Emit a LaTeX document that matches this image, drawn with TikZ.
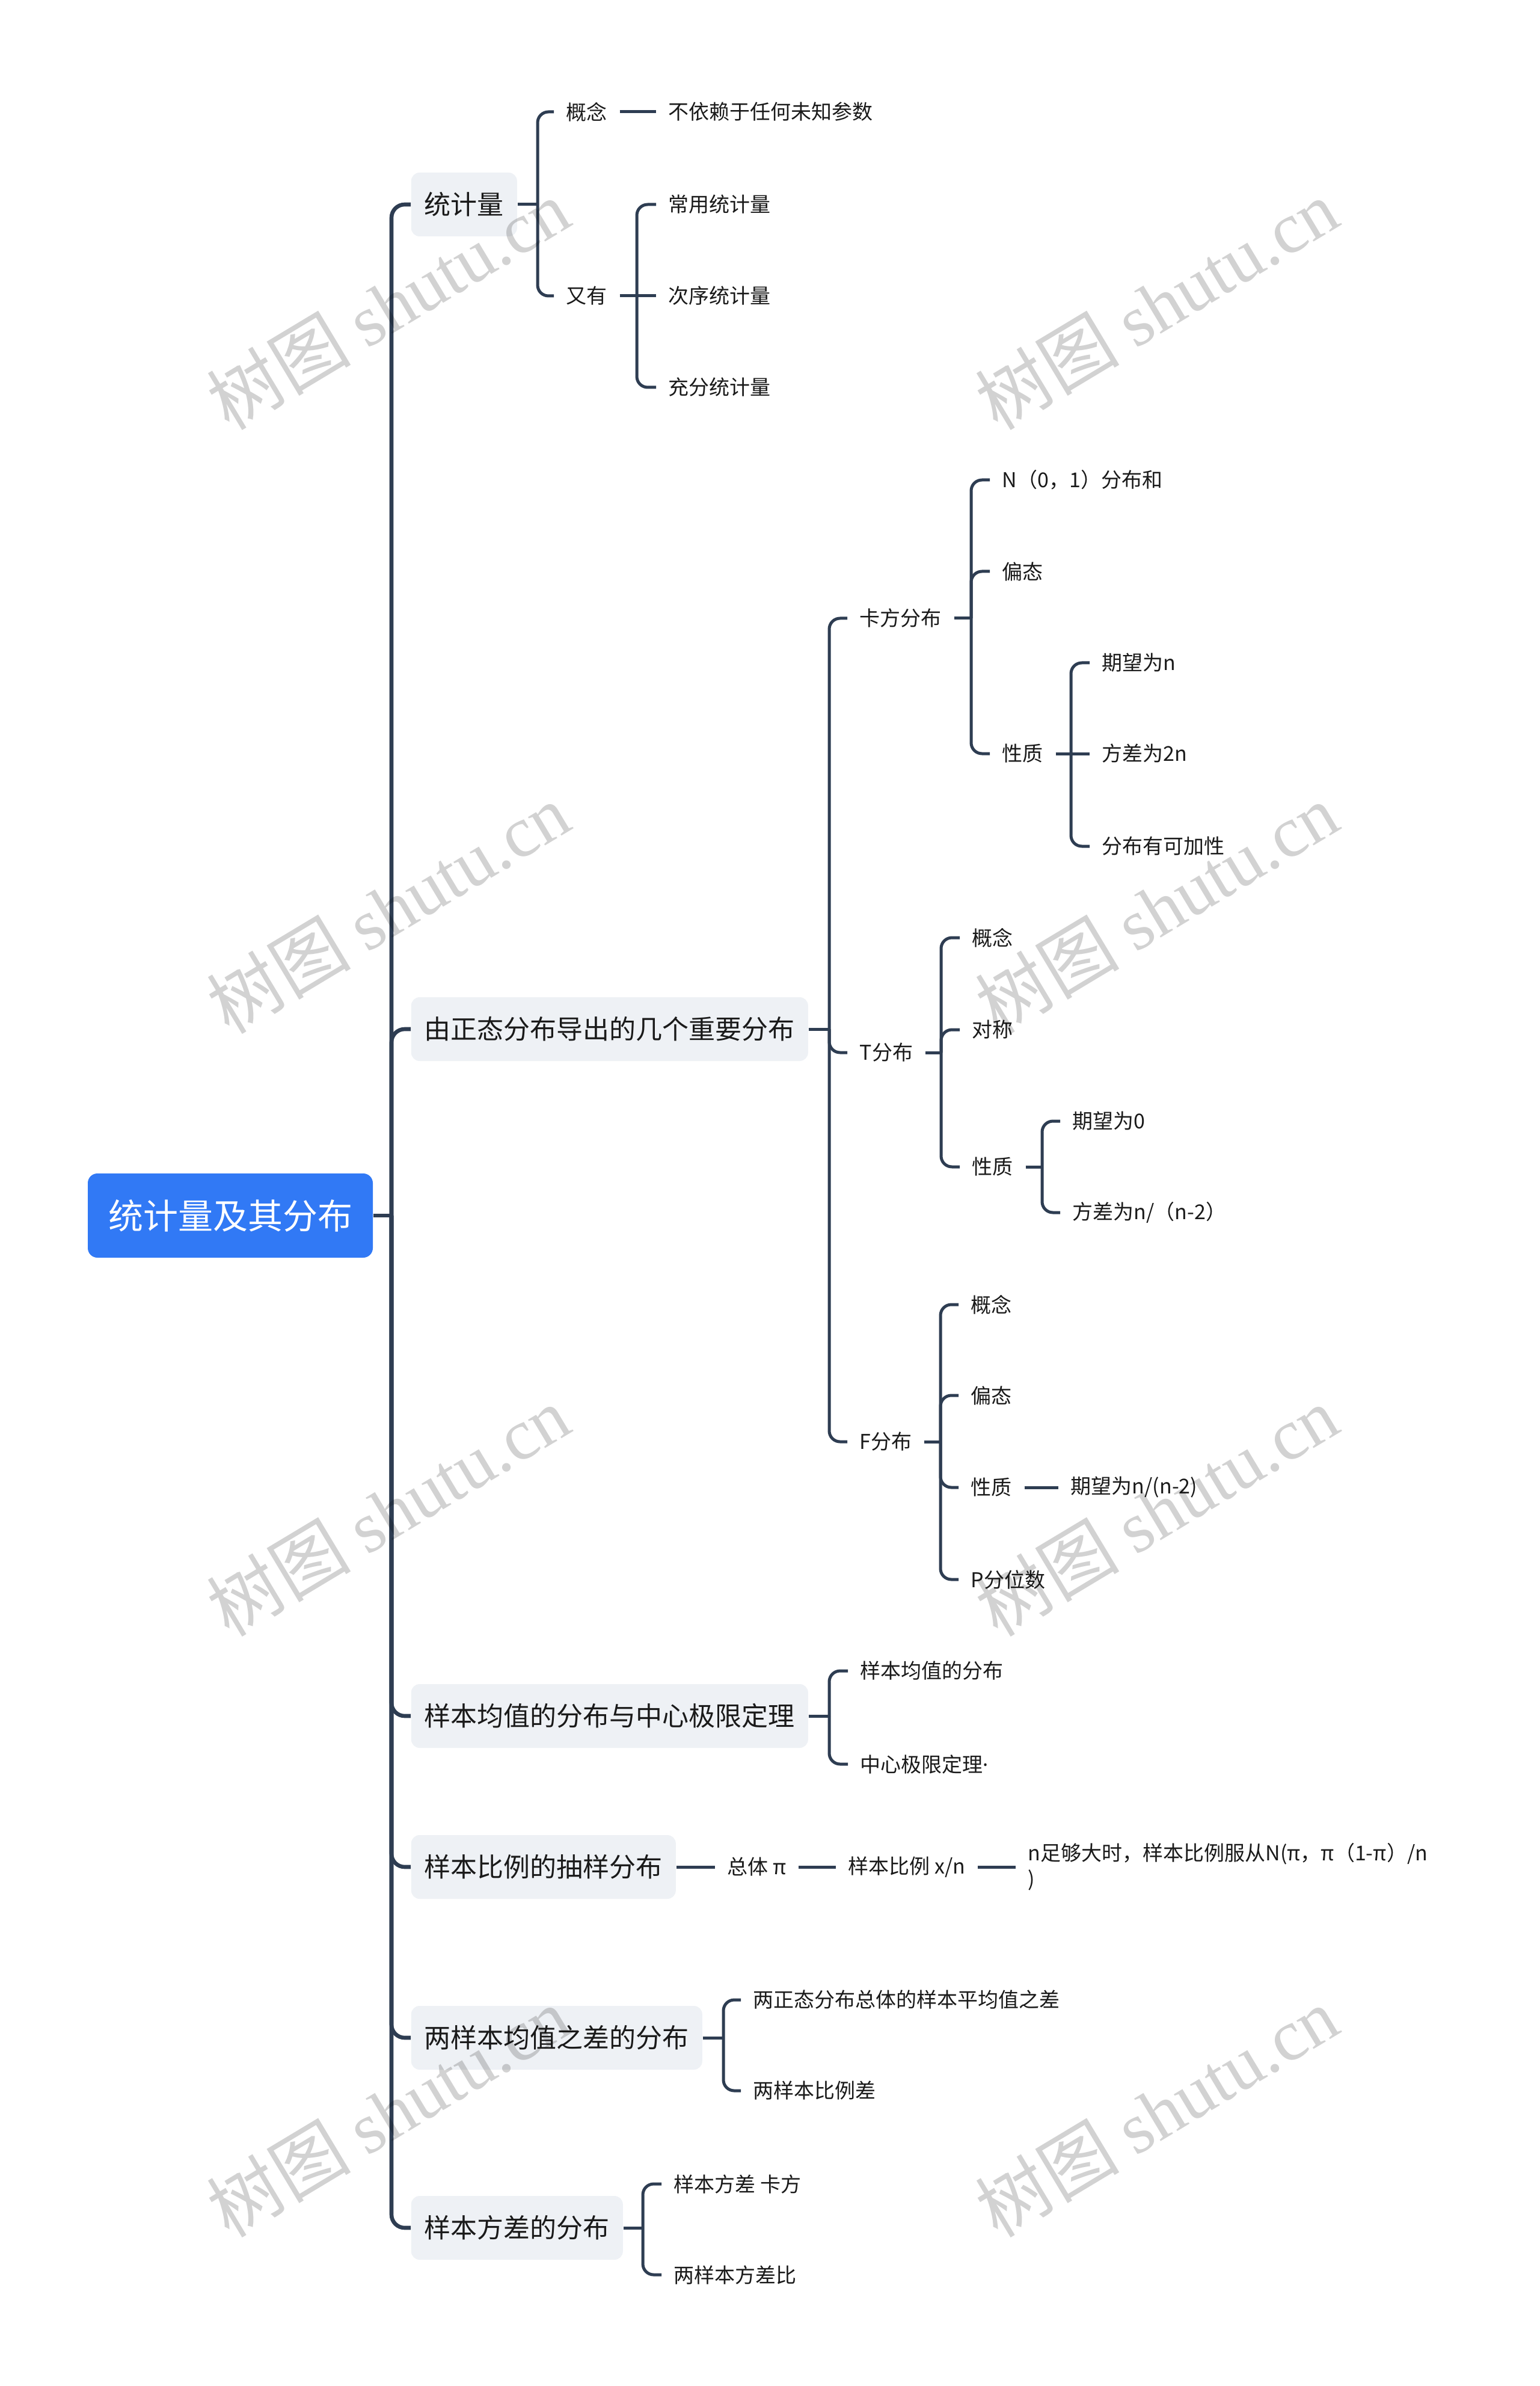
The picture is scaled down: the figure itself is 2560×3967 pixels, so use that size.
\documentclass[tikz,border=0pt]{standalone}
\usepackage{fontspec}
\setmainfont{Noto Sans CJK SC}
\newfontfamily\wmcjk{Noto Sans CJK SC}
\newfontfamily\wmlat{Liberation Serif}
\newfontfamily\latf{Noto Sans}
\definecolor{linec}{HTML}{2E3D52}
\definecolor{rootc}{HTML}{3179F5}
\definecolor{boxc}{HTML}{EEF1F5}
\definecolor{txtc}{HTML}{1A1A1A}
\definecolor{wmc}{HTML}{D2D2D2}
\tikzset{
  rootbox/.style={fill=rootc, rounded corners=4pt, text=white, font=\fontsize{14.5pt}{17pt}\selectfont, inner xsep=7.75pt, inner ysep=0pt, minimum height=35pt, minimum width=118.5pt},
  mainbox/.style={fill=boxc, rounded corners=3.5pt, text=txtc, font=\fontsize{11pt}{13pt}\selectfont, inner xsep=5.5pt, inner ysep=0pt, minimum height=26.5pt, anchor=west},
  leaf/.style={text=txtc, font=\fontsize{8.5pt}{10.75pt}\selectfont, inner xsep=5pt, inner ysep=1pt, anchor=west},
  trunk/.style={draw=linec, line width=1.65pt, rounded corners=5.5pt},
  br/.style={draw=linec, line width=1.25pt, rounded corners=4.5pt},
  wm/.style={text=wmc, rotate=31, inner sep=0pt},
}
\begin{document}
\begin{tikzpicture}[x=0.25pt, y=-0.25pt]
\useasboundingbox (0,0) rectangle (2560,3967);
\fill[white] (0,0) rectangle (2560,3967);

% root and main branches
\node[rootbox] (R) at (383,2021) {统计量及其分布};
\node[mainbox] (S1) at (683,340) {统计量};
\node[mainbox] (S2) at (683,1711) {由正态分布导出的几个重要分布};
\node[mainbox] (S3) at (683,2853) {样本均值的分布与中心极限定理};
\node[mainbox] (S4) at (683,3104) {样本比例的抽样分布};
\node[mainbox] (S5) at (683,3388) {两样本均值之差的分布};
\node[mainbox] (S6) at (683,3704) {样本方差的分布};

% 统计量
\node[leaf] (A1) at (921,186) {概念};
\node[leaf] (A1a) at (1091,186) {不依赖于任何未知参数};
\node[leaf] (A2) at (921,492) {又有};
\node[leaf] (A2a) at (1091,340) {常用统计量};
\node[leaf] (A2b) at (1091,492) {次序统计量};
\node[leaf] (A2c) at (1091,644) {充分统计量};

% 卡方分布
\node[leaf] (B1) at (1409,1028) {卡方分布};
\node[leaf] (B1a) at (1646,798) {N（0，1）分布和};
\node[leaf] (B1b) at (1646,950) {偏态};
\node[leaf] (B1c) at (1646,1253) {性质};
\node[leaf] (B1c1) at (1812,1102) {期望为n};
\node[leaf] (B1c2) at (1812,1253) {方差为2n};
\node[leaf] (B1c3) at (1812,1407) {分布有可加性};

% T分布
\node[leaf] (B2) at (1409,1750) {T分布};
\node[leaf] (B2a) at (1596,1559) {概念};
\node[leaf] (B2b) at (1596,1712) {对称};
\node[leaf] (B2c) at (1596,1940) {性质};
\node[leaf] (B2c1) at (1763,1864) {期望为0};
\node[leaf] (B2c2) at (1763,2016) {方差为n/（n-2）};

% F分布
\node[leaf] (B3) at (1409,2397) {F分布};
\node[leaf] (B3a) at (1594,2169) {概念};
\node[leaf] (B3b) at (1594,2320) {偏态};
\node[leaf] (B3c) at (1594,2473) {性质};
\node[leaf] (B3d) at (1594,2626) {P分位数};
\node[leaf] (B3c1) at (1760,2473) {期望为n/(n-2)};

% 样本均值
\node[leaf] (C1) at (1410,2778) {样本均值的分布};
\node[leaf] (C2) at (1410,2933) {中心极限定理{\latf ·}};

% 样本比例
\node[leaf] (D1) at (1189,3104) {总体 π};
\node[leaf] (D2) at (1390,3104) {样本比例 x/n};
\node[leaf, align=left] (D3) at (1689,3104) {n足够大时，样本比例服从N(π，π（1-π）/n\\)};

% 两样本均值之差
\node[leaf] (E1) at (1232,3325) {两正态分布总体的样本平均值之差};
\node[leaf] (E2) at (1232,3476) {两样本比例差};

% 样本方差
\node[leaf] (F1) at (1100,3631) {样本方差 卡方};
\node[leaf] (F2) at (1100,3782) {两样本方差比};

% connectors
\coordinate (t0) at (651,2021);
\draw[trunk] (R.east) -- (t0);
\foreach \n in {S1,S2,S3,S4,S5,S6} \draw[trunk] (t0) |- (\n.west);

\coordinate (b1) at (894,340);
\draw[br] (S1.east) -- (b1);
\draw[br] (b1) |- (A1.west);
\draw[br] (b1) |- (A2.west);
\draw[br] (A1.east) -- (A1a.west);
\coordinate (b2) at (1059,492);
\draw[br] (A2.east) -- (b2);
\draw[br] (b2) |- (A2a.west);
\draw[br] (b2) -- (A2b.west);
\draw[br] (b2) |- (A2c.west);

\coordinate (b3) at (1379,1711);
\draw[br] (S2.east) -- (b3);
\draw[br] (b3) |- (B1.west);
\draw[br] (b3) |- (B2.west);
\draw[br] (b3) |- (B3.west);

\coordinate (b4) at (1615,1028);
\draw[br] (B1.east) -- (b4);
\draw[br] (b4) |- (B1a.west);
\draw[br] (b4) |- (B1b.west);
\draw[br] (b4) |- (B1c.west);
\coordinate (b5) at (1781,1253);
\draw[br] (B1c.east) -- (b5);
\draw[br] (b5) |- (B1c1.west);
\draw[br] (b5) -- (B1c2.west);
\draw[br] (b5) |- (B1c3.west);

\coordinate (b6) at (1565,1750);
\draw[br] (B2.east) -- (b6);
\draw[br] (b6) |- (B2a.west);
\draw[br] (b6) |- (B2b.west);
\draw[br] (b6) |- (B2c.west);
\coordinate (b7) at (1733,1940);
\draw[br] (B2c.east) -- (b7);
\draw[br] (b7) |- (B2c1.west);
\draw[br] (b7) |- (B2c2.west);

\coordinate (b8) at (1564,2397);
\draw[br] (B3.east) -- (b8);
\draw[br] (b8) |- (B3a.west);
\draw[br] (b8) |- (B3b.west);
\draw[br] (b8) |- (B3c.west);
\draw[br] (b8) |- (B3d.west);
\draw[br] (B3c.east) -- (B3c1.west);

\coordinate (b9) at (1379,2853);
\draw[br] (S3.east) -- (b9);
\draw[br] (b9) |- (C1.west);
\draw[br] (b9) |- (C2.west);

\draw[br] (S4.east) -- (D1.west);
\draw[br] (D1.east) -- (D2.west);
\draw[br] (D2.east) -- (D3.west);

\coordinate (b10) at (1203,3388);
\draw[br] (S5.east) -- (b10);
\draw[br] (b10) |- (E1.west);
\draw[br] (b10) |- (E2.west);

\coordinate (b11) at (1069,3704);
\draw[br] (S6.east) -- (b11);
\draw[br] (b11) |- (F1.west);
\draw[br] (b11) |- (F2.west);

% watermark
\begin{scope}[blend mode=multiply]
\foreach \wx in {645,1923}
  \foreach \wy in {506,1510,2512,3511}
    \node[wm] at (\wx,\wy) {\fontsize{30pt}{32pt}\selectfont{\wmcjk 树图} {\wmlat shutu.cn}};
\end{scope}
\end{tikzpicture}
\end{document}
